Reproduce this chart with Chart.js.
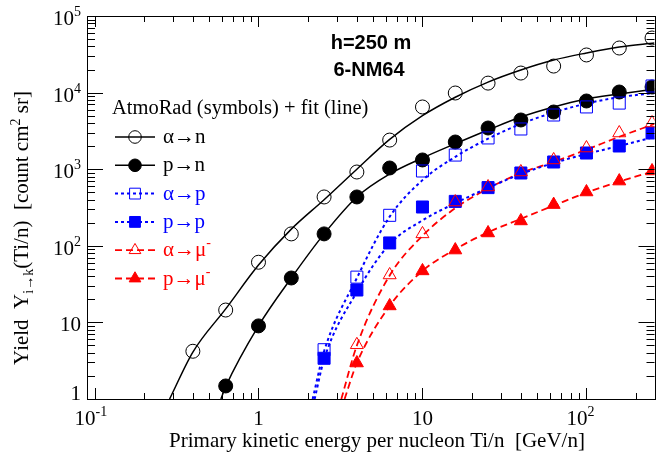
<!DOCTYPE html>
<html>
<head>
<meta charset="utf-8">
<script src="https://cdn.jsdelivr.net/npm/chart.js@4.4.0/dist/chart.umd.min.js"></script>
<style>
  html, body { margin: 0; padding: 0; background: #fff; }
  #wrap { width: 664px; height: 460px; }
</style>
</head>
<body>
<div id="wrap"><canvas id="yieldChart" width="664" height="460"></canvas></div>
<script>
// primary energies of the AtmoRad runs (GeV/n)
const energy = [0.398, 0.631, 1, 1.585, 2.512, 3.981, 6.31, 10, 15.85, 25.12, 39.81, 63.1, 100, 158.5, 251.2];

// AtmoRad yields (symbols)
const alphaToN = [4.2, 14.5, 61, 143, 434, 919, 2400, 6490, 9880, 13300, 18000, 22200, 31000, 38200, 51600];
const protonToN = [null, 1.48, 9.0, 38, 143, 434, 1037, 1320, 2265, 3450, 4390, 5580, 7770, 10180, 11830];
const alphaToP = [null, null, null, null, 4.4, 39, 250, 948, 1530, 2560, 3350, 5100, 6500, 7300, 12200];
const protonToP = [null, null, null, null, 3.4, 26.5, 109, 321, 380, 575, 892, 1242, 1627, 2010, 2970];
const alphaToMu = [null, null, null, null, null, 5.1, 41.6, 143, 373, 586, 920, 1320, 1890, 2970, 4010];
const protonToMu = [null, null, null, null, null, 2.95, 16.4, 47, 88, 147, 211, 345, 504, 700, 948];

// fit curves (lines)
const fitEnergy = [0.398, 0.631, 1, 1.585, 2.512, 3.981, 6.31, 10, 15.85, 25.12, 39.81, 63.1, 100, 158.5, 260];
const fitThreshold = [0.287, 0.59, 2.14, 2.2, 3.2, 3.35]; // energy where each fit reaches Y = 1
const fitAlphaToN = [4.1, 15, 56, 165, 400, 1000, 2450, 5000, 8700, 13700, 19700, 26600, 32900, 39400, 44400];
const fitProtonToN = [null, 1.45, 9, 38, 143, 434, 865, 1400, 2150, 3250, 4800, 6490, 8250, 9590, 11150];
const fitAlphaToP = [null, null, null, null, 4.2, 38, 240, 720, 1450, 2500, 3900, 5500, 7200, 8700, 9900];
const fitProtonToP = [null, null, null, null, 3.3, 25, 105, 215, 360, 570, 865, 1205, 1580, 2010, 2630];
const fitAlphaToMu = [null, null, null, null, null, 5, 41, 135, 310, 560, 892, 1242, 1800, 2650, 3900];
const fitProtonToMu = [null, null, null, null, null, 2.95, 16.4, 47, 90, 150, 225, 335, 495, 690, 950];

// axis ticks
const xMajor = [0.1, 1, 10, 100];
const xTickLabels = [["10", "-1"], ["1", ""], ["10", ""], ["10", "2"]];
const yMajor = [1, 10, 100, 1000, 10000, 100000];
const yTickLabels = [["1", ""], ["10", ""], ["10", "2"], ["10", "3"], ["10", "4"], ["10", "5"]];

const legendNames = ["α→n", "p→n", "α→p", "p→p", "α→μ", "p→μ"];
const legendSup = ["", "", "", "", "-", "-"];

const BLUE = "#0000ff";
const RED = "#ff0000";
const SERIF = '"Liberation Serif", "Times New Roman", serif';

function toPoints(xs, ys, start) {
  const pts = [];
  if (start) pts.push({ x: start, y: 1 });
  xs.forEach(function (x, i) {
    if (ys[i] !== null) pts.push({ x: x, y: ys[i] });
  });
  return pts;
}

function markerSet(label, ys, color, style, filled, radius, order) {
  return {
    label: label,
    data: toPoints(energy, ys),
    showLine: false,
    pointStyle: style,
    pointRadius: radius,
    pointBorderWidth: 1,
    pointBorderColor: color,
    pointBackgroundColor: filled ? color : "rgba(0,0,0,0)",
    clip: 0,
    order: order,
  };
}

function fitSet(ys, start, color, dash, width) {
  return {
    data: toPoints(fitEnergy, ys, start),
    showLine: true,
    pointRadius: 0,
    borderColor: color,
    borderWidth: width,
    borderDash: dash,
    cubicInterpolationMode: "monotone",
    fill: false,
    clip: 0,
    order: 20,
  };
}

const datasets = [
  markerSet("α→n", alphaToN, "#000", "circle", false, 7, 6),
  markerSet("p→n", protonToN, "#000", "circle", true, 7, 5),
  markerSet("α→p", alphaToP, BLUE, "rect", false, 8.5, 4),
  markerSet("p→p", protonToP, BLUE, "rect", true, 8.5, 3),
  markerSet("α→μ", alphaToMu, RED, "triangle", false, 7.5, 2),
  markerSet("p→μ", protonToMu, RED, "triangle", true, 7.5, 1),
  fitSet(fitAlphaToN, fitThreshold[0], "#000", [], 1.5),
  fitSet(fitProtonToN, fitThreshold[1], "#000", [], 1.5),
  fitSet(fitAlphaToP, fitThreshold[2], BLUE, [3, 3], 2),
  fitSet(fitProtonToP, fitThreshold[3], BLUE, [3, 3], 2),
  fitSet(fitAlphaToMu, fitThreshold[4], RED, [7, 4], 1.8),
  fitSet(fitProtonToMu, fitThreshold[5], RED, [7, 4], 1.8),
];

// text with raised / lowered pieces: parts = [text, size, raise]
function drawRich(ctx, parts, x, y, align) {
  let total = 0;
  parts.forEach(function (p) {
    ctx.font = p[1] + "px " + SERIF;
    total += ctx.measureText(p[0]).width;
  });
  let cx = x;
  if (align === "center") cx = x - total / 2;
  if (align === "right") cx = x - total;
  ctx.textAlign = "left";
  ctx.textBaseline = "alphabetic";
  parts.forEach(function (p) {
    ctx.font = p[1] + "px " + SERIF;
    ctx.fillText(p[0], cx, y - p[2]);
    cx += ctx.measureText(p[0]).width;
  });
}

function drawMarker(ctx, style, filled, color, r, x, y) {
  ctx.save();
  ctx.strokeStyle = color;
  ctx.fillStyle = color;
  ctx.lineWidth = 1;
  ctx.setLineDash([]);
  ctx.beginPath();
  if (style === "circle") {
    ctx.arc(x, y, r, 0, Math.PI * 2);
  } else if (style === "rect") {
    const s = r * Math.SQRT1_2;
    ctx.rect(x - s, y - s, 2 * s, 2 * s);
  } else {
    ctx.moveTo(x, y - r);
    ctx.lineTo(x + r * Math.sin(Math.PI * 2 / 3), y + r / 2);
    ctx.lineTo(x - r * Math.sin(Math.PI * 2 / 3), y + r / 2);
    ctx.closePath();
  }
  if (filled) ctx.fill();
  ctx.stroke();
  ctx.restore();
}

const rootFrame = {
  id: "rootFrame",
  afterDraw(chart) {
    const ctx = chart.ctx;
    const area = chart.chartArea;
    const xs = chart.scales.x;
    const ys = chart.scales.y;
    ctx.save();

    // frame
    ctx.strokeStyle = "#000";
    ctx.lineWidth = 1;
    ctx.strokeRect(Math.round(area.left) + 0.5, Math.round(area.top) + 0.5,
      Math.round(area.right - area.left), Math.round(area.bottom - area.top));

    // ticks on all four sides, pointing inwards
    ctx.beginPath();
    for (let d = 0.1; d <= 100; d *= 10) {
      for (let k = 1; k <= 9; k++) {
        const v = d * k;
        if (v < xs.min || v > xs.max) continue;
        const px = Math.round(xs.getPixelForValue(v)) + 0.5;
        const len = k === 1 ? 11 : 6;
        ctx.moveTo(px, area.bottom);
        ctx.lineTo(px, area.bottom - len);
        ctx.moveTo(px, area.top);
        ctx.lineTo(px, area.top + len);
      }
    }
    for (let d = 1; d <= 100000; d *= 10) {
      for (let k = 1; k <= 9; k++) {
        const v = d * k;
        if (v < ys.min || v > ys.max) continue;
        const py = Math.round(ys.getPixelForValue(v)) + 0.5;
        const len = k === 1 ? 16 : 8;
        ctx.moveTo(area.left, py);
        ctx.lineTo(area.left + len, py);
        ctx.moveTo(area.right, py);
        ctx.lineTo(area.right - len, py);
      }
    }
    ctx.stroke();

    // tick labels
    ctx.fillStyle = "#000";
    xMajor.forEach(function (v, i) {
      const px = xs.getPixelForValue(v);
      const lab = xTickLabels[i];
      if (lab[1]) {
        ctx.font = "21px " + SERIF;
        const w = ctx.measureText(lab[0]).width;
        drawRich(ctx, [[lab[0], 21, 0], [lab[1], 14, 9]], px + 1 - w, 425, "left");
      } else {
        drawRich(ctx, [[lab[0], 21, 0]], px, 425, "center");
      }
    });
    yMajor.forEach(function (v, i) {
      let py = ys.getPixelForValue(v);
      if (v === ys.min) py -= 8;
      const lab = yTickLabels[i];
      const parts = [[lab[0], 21, 0]];
      if (lab[1]) parts.push([lab[1], 14, 9]);
      drawRich(ctx, parts, 81, py + 9, "right");
    });

    // axis titles
    drawRich(ctx, [["Primary kinetic energy per nucleon Ti/n  [GeV/n]", 21, 0]], 377, 447, "center");
    ctx.save();
    ctx.translate(28, 228);
    ctx.rotate(-Math.PI / 2);
    drawRich(ctx, [["Yield  Y", 21, 0], ["i→k", 14, -5], ["(Ti/n)  [count cm", 21, 0], ["2", 14, 8], [" sr]", 21, 0]], 0, 0, "center");
    ctx.restore();

    // run labels
    ctx.font = 'bold 20px "Liberation Sans", Arial, sans-serif';
    ctx.textAlign = "center";
    ctx.textBaseline = "alphabetic";
    ctx.fillText("h=250 m", 371, 49);
    ctx.fillText("6-NM64", 369, 76);

    // legend
    drawRich(ctx, [["AtmoRad (symbols) + fit (line)", 20.5, 0]], 112, 114, "left");
    for (let i = 0; i < 6; i++) {
      const mk = chart.data.datasets[i];
      const ln = chart.data.datasets[i + 6];
      const yRow = 137 + i * 28.3;
      ctx.save();
      ctx.strokeStyle = ln.borderColor;
      ctx.lineWidth = ln.borderWidth;
      ctx.setLineDash(ln.borderDash);
      ctx.beginPath();
      ctx.moveTo(115, yRow);
      ctx.lineTo(155, yRow);
      ctx.stroke();
      ctx.restore();
      const filled = mk.pointBackgroundColor !== "rgba(0,0,0,0)";
      drawMarker(ctx, mk.pointStyle, filled, mk.pointBorderColor, mk.pointRadius * 0.9, 135, yRow);
      ctx.fillStyle = mk.pointBorderColor;
      const parts = [[legendNames[i], 21, 0]];
      if (legendSup[i]) parts.push([legendSup[i], 14, 9]);
      drawRich(ctx, parts, 163, yRow + 6, "left");
    }
    ctx.restore();
  },
};

const ctx = document.getElementById("yieldChart").getContext("2d");
const chart = new Chart(ctx, {
  type: "scatter",
  data: { datasets: datasets },
  options: {
    responsive: false,
    animation: false,
    layout: { padding: { left: 87, right: 2, top: 16, bottom: 61 } },
    plugins: { legend: { display: false }, tooltip: { enabled: false } },
    scales: {
      x: { type: "logarithmic", min: 0.09, max: 260, display: false },
      y: { type: "logarithmic", min: 1, max: 100000, display: false },
    },
  },
  plugins: [rootFrame],
});
</script>
</body>
</html>
